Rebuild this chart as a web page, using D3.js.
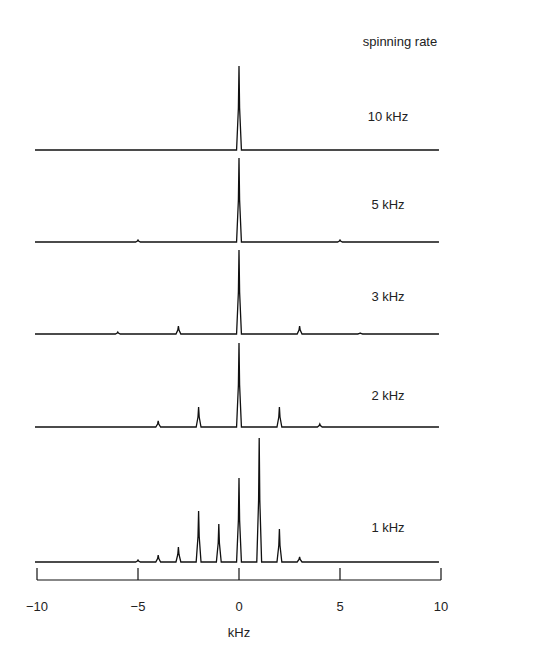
<!DOCTYPE html>
<html><head><meta charset="utf-8">
<script src="https://d3js.org/d3.v7.min.js"></script>
<style>body{margin:0;background:#fff}text{font-family:"Liberation Sans Narrow","Liberation Sans",Arial,sans-serif;fill:#222}</style>
</head><body><div id="graph"></div>
<script>
// spinning rates (labels) and sideband positions (kHz) with intensities (arbitrary units)
var rates = ["10 kHz", "5 kHz", "3 kHz", "2 kHz", "1 kHz"];
var peaks10 = [[0, 84]];
var peaks5 = [[-5, 2], [0, 84], [5, 2]];
var peaks3 = [[-6, 2], [-3, 8], [0, 84], [3, 8], [6, 1]];
var peaks2 = [[-4, 6], [-2, 20], [0, 84], [2, 20], [4, 3]];
var peaks1 = [[-5, 2], [-4, 7], [-3, 15], [-2, 51], [-1, 38], [0, 84], [1, 124], [2, 33], [3, 5]];
var allPeaks = [peaks10, peaks5, peaks3, peaks2, peaks1];
var xTicks = [-10, -5, 0, 5, 10];

var width = 543, height = 655;
var svg = d3.select("#graph").append("svg").attr("width", width).attr("height", height);

var x = d3.scaleLinear().domain([-10, 10]).range([37, 441]);
var baselines = [150, 242, 334, 427, 562];
var labelY = [121, 209, 301, 400, 532];
var hscale = d3.scaleLinear().domain([0, 84]).range([0, 84]);

svg.append("text").attr("x", 400).attr("y", 46).attr("text-anchor", "middle")
    .style("font-size", "13px").text("spinning rate");

allPeaks.forEach(function (peaks, i) {
    var base = baselines[i];
    var line = d3.line().x(function (d) { return x(d[0]); }).y(function (d) { return base - hscale(d[1]); });
    var pts = [[-10.1, 0]];
    peaks.forEach(function (p) {
        pts.push([p[0] - 0.12, 0], [p[0] - 0.03, p[1] * 0.5], [p[0], p[1]], [p[0] + 0.03, p[1] * 0.5], [p[0] + 0.12, 0]);
    });
    pts.push([9.9, 0]);
    svg.append("path").attr("d", line(pts)).attr("fill", "none").attr("stroke", "#111").attr("stroke-width", 1.3);
    svg.append("text").attr("x", 388).attr("y", labelY[i]).attr("text-anchor", "middle")
        .style("font-size", "13px").text(rates[i]);
});

// axis
var axisY = 580;
svg.append("line").attr("x1", x(-10)).attr("x2", x(10)).attr("y1", axisY).attr("y2", axisY)
    .attr("stroke", "#111").attr("stroke-width", 1.2);
svg.selectAll(".tk").data(xTicks).enter().append("line")
    .attr("x1", function (d) { return x(d); }).attr("x2", function (d) { return x(d); })
    .attr("y1", axisY).attr("y2", axisY - 12).attr("stroke", "#111").attr("stroke-width", 1.2);
svg.selectAll(".tl").data(xTicks).enter().append("text")
    .attr("x", function (d) { return x(d); }).attr("y", 611).attr("text-anchor", "middle")
    .style("font-size", "13px").text(function (d) { return d < 0 ? "\u2212" + (-d) : d; });
svg.append("text").attr("x", x(0)).attr("y", 637).attr("text-anchor", "middle")
    .style("font-size", "13px").text("kHz");
</script></body></html>
